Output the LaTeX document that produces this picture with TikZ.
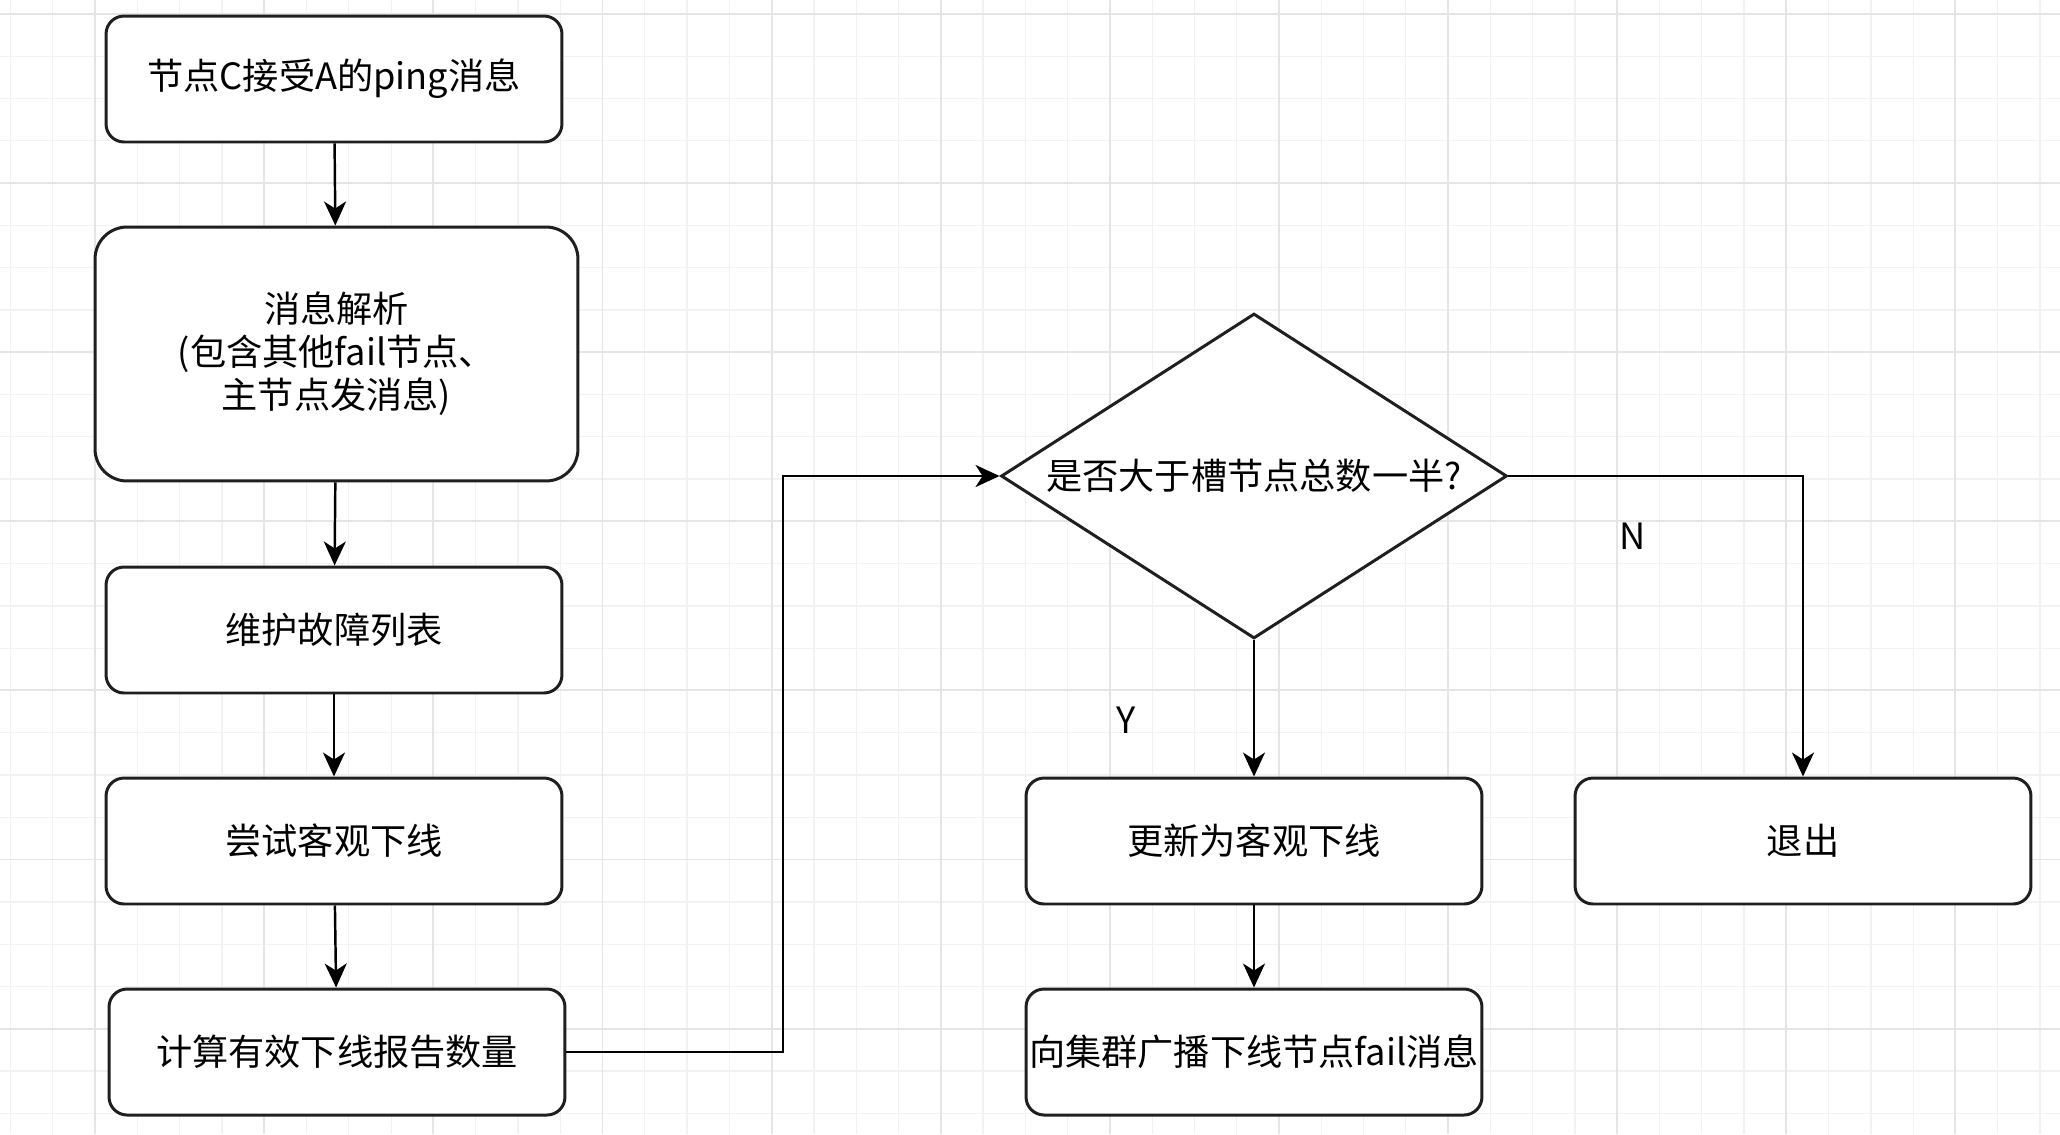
\documentclass[tikz,border=0pt]{standalone}
\usepackage{fontspec}
\setmainfont{Noto Sans CJK SC}
\usetikzlibrary{arrows.meta, shapes.geometric}

\begin{document}
\begin{tikzpicture}[x=0.02cm, y=-0.02cm,
  font=\fontsize{20.6}{24.4}\selectfont,
  box/.style={draw=black!88, fill=white, line width=1.7pt, rounded corners=0.36cm,
    minimum width=9.12cm, minimum height=2.52cm, inner sep=0pt, align=center},
  bigbox/.style={box, rounded corners=0.64cm, minimum width=9.66cm, minimum height=5.08cm},
  decision/.style={draw=black!88, fill=white, line width=1.7pt, diamond, aspect=1.56,
    minimum width=10.12cm, minimum height=6.5cm, inner sep=0pt},
  flow/.style={line width=1.4pt, -{Stealth[length=0.48cm, width=0.44cm, inset=0.14cm]}},
  gridminor/.style={draw=black!5, line width=0.7pt},
  gridmajor/.style={draw=black!10, line width=1.1pt}]
\useasboundingbox (0,0) rectangle (2060,1134);
% background grid
\fill[white] (0,0) rectangle (2060,1134);
\foreach \k in {0,...,48} \draw[gridminor] ({10.6+42.28*\k},0) -- ({10.6+42.28*\k},1134);
\foreach \k in {0,...,26} \draw[gridminor] (0,{14+42.28*\k}) -- (2060,{14+42.28*\k});
\foreach \k in {0,...,11} \draw[gridmajor] ({95.2+169.1*\k},0) -- ({95.2+169.1*\k},1134);
\foreach \k in {0,...,6} \draw[gridmajor] (0,{14+169.1*\k}) -- (2060,{14+169.1*\k});
% left column
\node[box] (ping) at (334,79) {节点C接受A的ping消息};
\node[bigbox] (parse) at (336.5,354) {消息解析\\(包含其他fail节点、\\主节点发消息)};
\node[box] (faillist) at (334,630) {维护故障列表};
\node[box] (tryoff) at (334,841) {尝试客观下线};
\node[box] (count) at (337,1052) {计算有效下线报告数量};
% decision and branches
\node[decision] (half) at (1254,476) {是否大于槽节点总数一半?};
\node[box] (mark) at (1254,841) {更新为客观下线};
\node[box] (quit) at (1803,841) {退出};
\node[box] (bcast) at (1254,1052) {向集群广播下线节点fail消息};
\node (ylab) at (1126,720) {Y};
\node (nlab) at (1633,536) {N};
\coordinate (bend) at (783,476);
% connectors
\draw[flow] (ping) -- (parse);
\draw[flow] (parse) -- (faillist);
\draw[flow] (faillist) -- (tryoff);
\draw[flow] (tryoff) -- (count);
\draw[flow] (count.east) -| (bend) -- (half.west);
\draw[flow] (half.south) -- (mark.north);
\draw[flow] (half.east) -| (quit.north);
\draw[flow] (mark) -- (bcast);
\end{tikzpicture}
\end{document}
